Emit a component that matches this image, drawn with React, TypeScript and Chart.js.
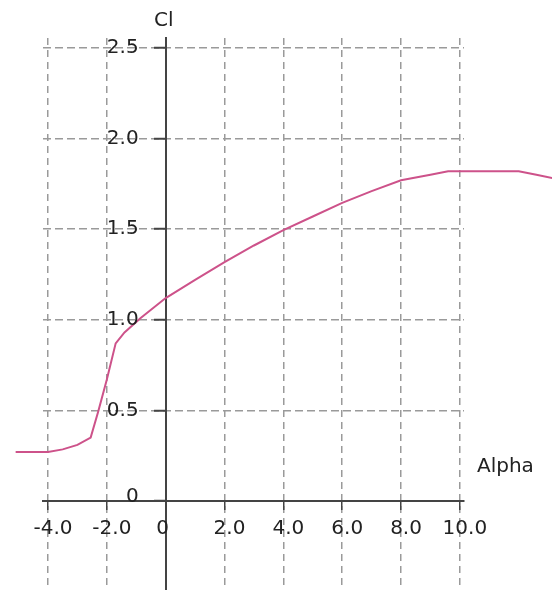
import React, { useEffect, useRef } from "react";
import { Chart, registerables } from "chart.js";

Chart.register(...registerables);

// Data (angle of attack vs lift coefficient)
const ALPHA = [-5.1, -4.0, -3.5, -3.0, -2.55, -2.3, -2.0, -1.7, -1.4, -0.85, 0.0, 1.0, 2.0, 3.0, 4.0, 5.0, 6.0, 7.0, 8.0, 9.0, 9.6, 12.0, 12.6, 13.2];
const CL = [0.27, 0.27, 0.285, 0.31, 0.35, 0.49, 0.67, 0.87, 0.93, 1.01, 1.12, 1.22, 1.318, 1.41, 1.495, 1.57, 1.645, 1.71, 1.77, 1.8, 1.82, 1.82, 1.8, 1.78];

const X_TICKS = [-4, -2, 0, 2, 4, 6, 8, 10];
const X_LABELS = ["-4.0", "-2.0", "0", "2.0", "4.0", "6.0", "8.0", "10.0"];
const Y_TICKS = [0, 0.5, 1.0, 1.5, 2.0, 2.5];
const Y_LABELS = ["0", "0.5", "1.0", "1.5", "2.0", "2.5"];

const X_TITLE = "Alpha";
const Y_TITLE = "Cl";

const FONT = "'DejaVu Sans', 'Liberation Sans', sans-serif";
const FONT_SIZE = 20;
const TEXT_COLOR = "#222222";
const GRID_COLOR = "#9a9a9a";
const AXIS_COLOR = "#444444";
const CURVE_COLOR = "rgb(205, 82, 138)";

const labelPlugin = {
  id: "axisLabels",
  afterDraw(chart: any) {
    const { ctx, chartArea } = chart;
    const xs = chart.scales.x;
    const ys = chart.scales.y;
    const x0 = xs.getPixelForValue(0);
    const y0 = ys.getPixelForValue(0);
    ctx.save();
    ctx.font = `${FONT_SIZE}px ${FONT}`;
    ctx.fillStyle = TEXT_COLOR;
    ctx.textBaseline = "middle";
    ctx.textAlign = "center";
    X_TICKS.forEach((v, i) => {
      ctx.fillText(X_LABELS[i], xs.getPixelForValue(v) + (v === 0 ? -3 : 5), y0 + 28);
    });
    ctx.textAlign = "right";
    Y_TICKS.forEach((v, i) => {
      ctx.fillText(Y_LABELS[i], x0 - 27, ys.getPixelForValue(v) + (v === 0 ? -4 : 0));
    });
    ctx.textAlign = "center";
    ctx.fillText(Y_TITLE, x0 - 2, chartArea.top - 17);
    ctx.textAlign = "left";
    ctx.fillText(X_TITLE, chartArea.right + 13, y0 - 34);
    ctx.restore();
  },
};

export default function App() {
  const ref = useRef<HTMLCanvasElement | null>(null);

  useEffect(() => {
    if (!ref.current) return;
    // listed from the last point back so every point (also those beyond the axis range) is drawn
    const points = ALPHA.map((a, i) => ({ x: a, y: CL[i] })).reverse();
    const gridColor = (c: any) => (c.tick && c.tick.value === 0 ? "rgba(0,0,0,0)" : GRID_COLOR);
    const chart = new Chart(ref.current, {
      type: "line",
      data: {
        datasets: [
          {
            data: points,
            borderColor: CURVE_COLOR,
            borderWidth: 2,
            pointRadius: 0,
            tension: 0,
            fill: false,
            clip: false as any,
          },
        ],
      },
      options: {
        animation: false,
        responsive: false,
        devicePixelRatio: 1,
        layout: { padding: { left: 43, right: 88, top: 38, bottom: 0 } },
        plugins: { legend: { display: false }, tooltip: { enabled: false } },
        scales: {
          x: {
            type: "linear",
            position: { y: 0 } as any,
            min: -4.17,
            max: 10.14,
            afterBuildTicks: (axis: any) => {
              axis.ticks = X_TICKS.map((value) => ({ value }));
            },
            ticks: { display: false },
            grid: {
              color: gridColor,
              lineWidth: 1.5,
              drawTicks: true,
              tickLength: 8,
              tickColor: AXIS_COLOR,
              tickWidth: 1.5,
            },
            border: { display: true, color: AXIS_COLOR, width: 2, dash: [7, 5] },
          },
          y: {
            type: "linear",
            position: { x: 0 } as any,
            min: -0.491,
            max: 2.555,
            afterBuildTicks: (axis: any) => {
              axis.ticks = Y_TICKS.map((value) => ({ value }));
            },
            ticks: { display: false },
            grid: {
              color: gridColor,
              lineWidth: 1.5,
              drawTicks: true,
              tickLength: 11,
              tickColor: AXIS_COLOR,
              tickWidth: 2,
            },
            border: { display: true, color: AXIS_COLOR, width: 2, dash: [8, 4] },
          },
        },
      },
      plugins: [labelPlugin],
    });
    return () => chart.destroy();
  }, []);

  return (
    <div
      style={{
        position: "fixed",
        left: 0,
        top: 0,
        width: 552,
        height: 590,
        background: "#ffffff",
        overflow: "hidden",
      }}
    >
      <canvas ref={ref} width={552} height={590} style={{ display: "block" }} />
    </div>
  );
}
